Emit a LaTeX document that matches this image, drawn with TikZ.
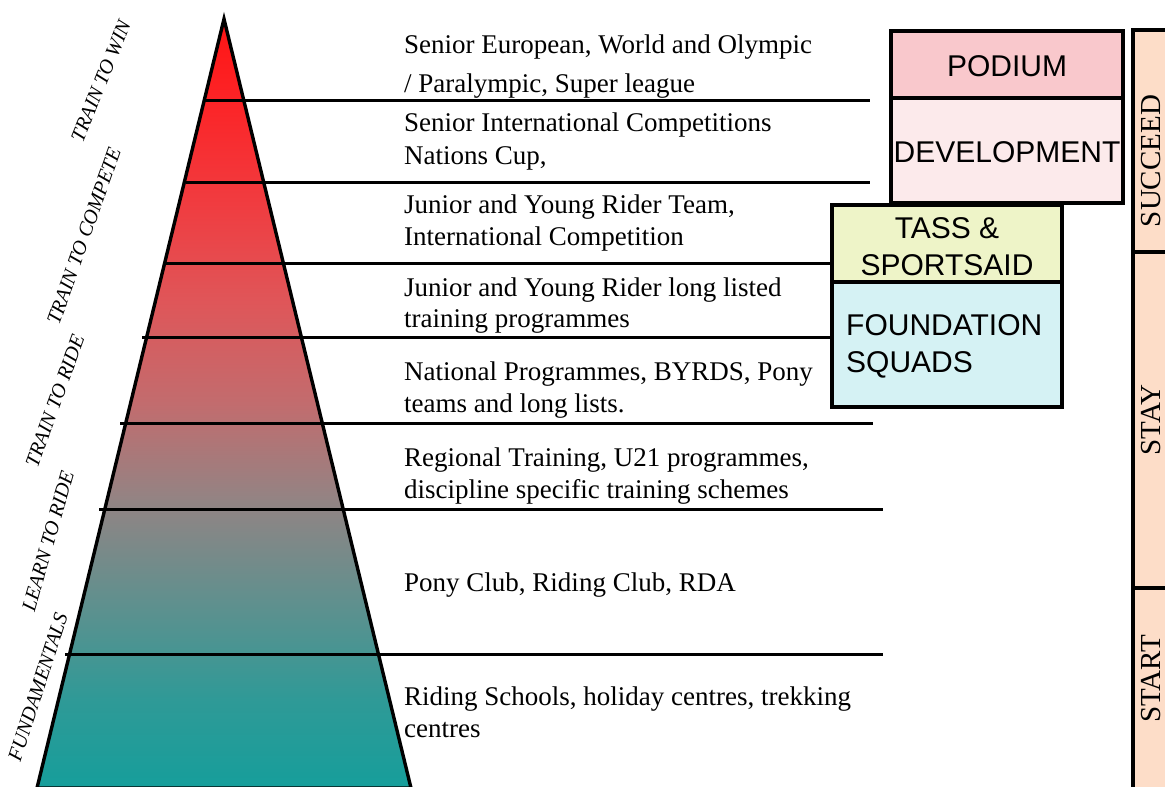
\documentclass[tikz,border=0pt]{standalone}
\usepackage{fontspec}
\setmainfont{Liberation Serif}
\newfontfamily\arialf{Liberation Sans}
\definecolor{pA}{HTML}{169E9B}
\definecolor{pB}{HTML}{2E9A97}
\definecolor{pC}{HTML}{5F908E}
\definecolor{pD}{HTML}{928484}
\definecolor{pE}{HTML}{C26C6E}
\definecolor{pF}{HTML}{DF5659}
\definecolor{pG}{HTML}{F03C40}
\definecolor{pH}{HTML}{FC2427}
\definecolor{pI}{HTML}{FF1414}
\pgfdeclareverticalshading{pyrshade}{100bp}{color(0bp)=(pA); color(25bp)=(pA); color(30.6bp)=(pB); color(37bp)=(pC); color(43.6bp)=(pD); color(50bp)=(pE); color(56.6bp)=(pF); color(63bp)=(pG); color(69.6bp)=(pH); color(75bp)=(pI); color(100bp)=(pI)}
\definecolor{podc}{HTML}{F9C8CC}
\definecolor{devc}{HTML}{FCEAEB}
\definecolor{tassc}{HTML}{EEF4C8}
\definecolor{foundc}{HTML}{D5F2F4}
\definecolor{colc}{HTML}{FDDDC8}
\begin{document}
\begin{tikzpicture}[x=1pt,y=-1pt,
  hline/.style={line width=3pt},
  boxst/.style={draw, line width=3.4pt, inner sep=0, outer sep=0},
  body/.style={anchor=base west, inner sep=0, font=\fontsize{27}{32}\selectfont},
  sans/.style={inner sep=0, font=\arialf\fontsize{30}{36}\selectfont},
  lab/.style={inner sep=0, font=\fontsize{20.3}{22}\selectfont\itshape},
  collab/.style={inner sep=0, rotate=90, font=\fontsize{29}{30}\selectfont}]
\useasboundingbox (0,0) rectangle (1165,787);
\clip (0,0) rectangle (1165,787);
\fill[white] (0,0) rectangle (1165,787);
% pyramid
\coordinate (apex) at (224,19);
\coordinate (bl) at (37,788);
\coordinate (br) at (411,788);
\shade[shading=pyrshade] (apex) -- (bl) -- (br) -- cycle;
\draw[line width=3.4pt] (apex) -- (bl) -- (br) -- cycle;
% level lines
\draw[hline] (205,100) -- (870,100);
\draw[hline] (186,182) -- (870,182);
\draw[hline] (165,263) -- (832,263);
\draw[hline] (142,337) -- (832,337);
\draw[hline] (120,423) -- (873,423);
\draw[hline] (99,509) -- (883,509);
\draw[hline] (65,654) -- (883,654);
\draw[line width=2pt, black!60] (37,787.5) -- (883,787.5);
% level texts
\node[body] (t1a) at (404,53) {Senior European, World and Olympic};
\node[body] (t1b) at (404,92) {/ Paralympic, Super league};
\node[body] (t2a) at (404,131) {Senior International Competitions};
\node[body] (t2b) at (404,164) {Nations Cup,};
\node[body] (t3a) at (404,213) {Junior and Young Rider Team,};
\node[body] (t3b) at (404,245) {International Competition};
\node[body] (t4a) at (404,296) {Junior and Young Rider long listed};
\node[body] (t4b) at (404,327) {training programmes};
\node[body] (t5a) at (404,380) {National Programmes, BYRDS, Pony};
\node[body] (t5b) at (404,412) {teams and long lists.};
\node[body] (t6a) at (404,466) {Regional Training, U21 programmes,};
\node[body] (t6b) at (404,498) {discipline specific training schemes};
\node[body] (t7a) at (404,591) {Pony Club, Riding Club, RDA};
\node[body] (t8a) at (404,705) {Riding Schools, holiday centres, trekking};
\node[body] (t8b) at (404,737) {centres};
% left stage labels
\node[lab, rotate=68] (s1) at (101,81) {TRAIN TO WIN};
\node[lab, rotate=70.5] (s2) at (84,236) {TRAIN TO COMPETE};
\node[lab, rotate=70] (s3) at (55,401) {TRAIN TO RIDE};
\node[lab, rotate=74] (s4) at (48,541) {LEARN TO RIDE};
\node[lab, rotate=72] (s5) at (38,687) {FUNDAMENTALS};
% boxes
\node[boxst, fill=podc, minimum width=232pt, minimum height=67pt] (podium) at (1007,64.5) {};
\node[boxst, fill=devc, minimum width=232pt, minimum height=105pt] (devel) at (1007,150.5) {};
\node[boxst, fill=tassc, minimum width=230pt, minimum height=77pt] (tass) at (947,243.5) {};
\node[boxst, fill=foundc, minimum width=230pt, minimum height=125pt] (found) at (947,344.5) {};
\node[sans] (podiumt) at (1007,66) {PODIUM};
\node[sans] (develt) at (1007,152.5) {DEVELOPMENT};
\node[sans, anchor=base] (tasst1) at (947,238) {TASS \&};
\node[sans, anchor=base] (tasst2) at (947,275) {SPORTSAID};
\node[sans, anchor=base west] (foundt1) at (846,335) {FOUNDATION};
\node[sans, anchor=base west] (foundt2) at (846,372) {SQUADS};
% right column
\node[boxst, fill=colc, anchor=north west, minimum width=60pt, minimum height=222pt] (succ) at (1133,30) {};
\node[boxst, fill=colc, anchor=north west, minimum width=60pt, minimum height=336pt] (stay) at (1133,252) {};
\node[boxst, fill=colc, anchor=north west, minimum width=60pt, minimum height=220pt] (start) at (1133,588) {};
\node[collab] (succt) at (1151,161) {SUCCEED};
\node[collab] (stayt) at (1151,420) {STAY};
\node[collab] (startt) at (1151,679) {START};
\end{tikzpicture}
\end{document}
